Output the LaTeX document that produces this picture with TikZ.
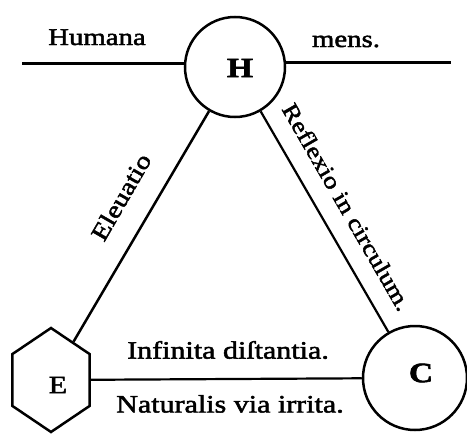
\documentclass[tikz,border=0pt]{standalone}
\usepackage{fontspec}
\setmainfont{Liberation Serif}[FakeStretch=1.2, FakeBold=2]
\usetikzlibrary{shapes.geometric}
\begin{document}
\begin{tikzpicture}[x=1pt,y=-1pt,line width=2.5pt,
  ring/.style={circle, draw, minimum size=100pt, inner sep=0pt},
  hexa/.style={regular polygon, regular polygon sides=6, regular polygon rotate=30,
    draw, minimum size=104pt, inner sep=0pt, xscale=0.855, transform shape},
  lbl/.style={font=\fontsize{24}{24}\selectfont, inner sep=0pt},
  letter/.style={font=\fontsize{28}{28}\selectfont\bfseries, inner sep=0pt},
  eletter/.style={font=\fontsize{25}{25}\selectfont, inner sep=0pt}]
\useasboundingbox (0,0) rectangle (467,434);
\node[ring] (H) at (235,67) {};
\node[ring, minimum size=104pt] (C) at (415,378) {};
\node[hexa] (E) at (51,380) {};
\node[letter] (Hl) at (240,68) {H};
\node[letter] (Cl) at (421,373) {C};
\node[eletter] (El) at (58,385) {E};
\coordinate (hl) at (22,63);
\coordinate (hr) at (451,62);
\draw[line width=3pt] (hl) -- (hl -| H.west);
\draw[line width=3pt] (H.east |- hr) -- (hr);
\draw (H) -- (E);
\draw[line width=2.2pt] (H) -- (C);
\draw[line width=2.2pt] (E) -- (C);
\node[lbl, anchor=base] (hum) at (97,45) {Humana};
\node[lbl, anchor=base] (mens) at (346,47) {mens.};
\node[lbl, rotate=60] (el) at (121,197) {Eleuatio};
\node[lbl, rotate=-60, font=\fontsize{23}{23}\selectfont] (re) at (347,207) {Reflexio in circulum.};
\node[lbl, font=\fontsize{25}{25}\selectfont] (inf) at (228,350) {Infinita diſtantia.};
\node[lbl, font=\fontsize{25}{25}\selectfont] (nat) at (230,404) {Naturalis via irrita.};
\end{tikzpicture}
\end{document}
